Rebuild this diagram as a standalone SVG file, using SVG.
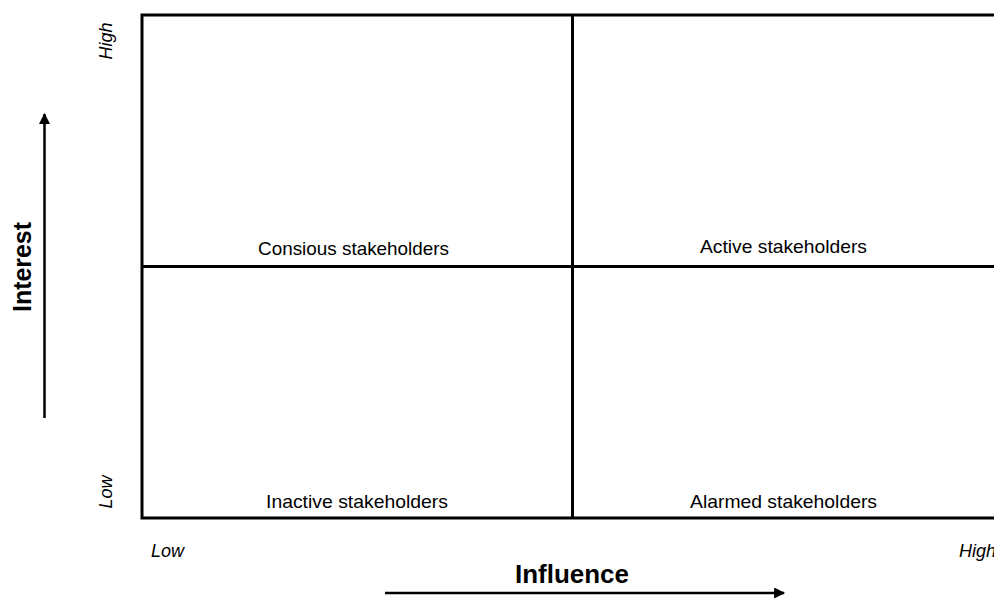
<svg xmlns="http://www.w3.org/2000/svg" width="994" height="599" viewBox="0 0 994 599">
  <style>
    .grid { stroke: #000; stroke-width: 3; fill: none; }
    .quad { font-family: "Liberation Sans", Arial, sans-serif; font-size: 19px; fill: #000; text-anchor: middle; }
    .axis-title { font-family: "Liberation Sans", Arial, sans-serif; font-size: 25px; font-weight: bold; fill: #000; text-anchor: middle; }
    .tick { font-family: "Liberation Sans", Arial, sans-serif; font-size: 18px; font-style: italic; fill: #000; }
    .axis-line { stroke: #000; stroke-width: 2.5; fill: none; }
  </style>
  <defs>
    <marker id="arrow" viewBox="0 0 10 10" refX="9" refY="5" markerWidth="4.8" markerHeight="4.4" markerUnits="strokeWidth" orient="auto">
      <path d="M0,0 L10,5 L0,10 Z" fill="#000"/>
    </marker>
  </defs>

  <!-- 2x2 matrix frame -->
  <g id="matrix" class="grid">
    <rect x="142" y="15" width="870" height="503"/>
    <line x1="572.5" y1="15" x2="572.5" y2="518"/>
    <line x1="142" y1="266.5" x2="1012" y2="266.5"/>
  </g>

  <!-- quadrant labels -->
  <g id="q-conscious"><text class="quad" x="353.5" y="255" textLength="191" lengthAdjust="spacingAndGlyphs">Consious stakeholders</text></g>
  <g id="q-active"><text class="quad" x="783.5" y="253" textLength="167" lengthAdjust="spacingAndGlyphs">Active stakeholders</text></g>
  <g id="q-inactive"><text class="quad" x="357" y="508" textLength="182" lengthAdjust="spacingAndGlyphs">Inactive stakeholders</text></g>
  <g id="q-alarmed"><text class="quad" x="783.5" y="508" textLength="187" lengthAdjust="spacingAndGlyphs">Alarmed stakeholders</text></g>

  <!-- axis tick labels -->
  <g id="tick-y-high"><text class="tick" transform="translate(112,41) rotate(-90)" text-anchor="middle">High</text></g>
  <g id="tick-y-low"><text class="tick" transform="translate(112,492) rotate(-90)" text-anchor="middle">Low</text></g>
  <g id="tick-x-low"><text class="tick" x="151" y="557">Low</text></g>
  <g id="tick-x-high"><text class="tick" x="959" y="557">High</text></g>

  <!-- axis titles -->
  <g id="axis-interest"><text class="axis-title" transform="translate(31,267) rotate(-90)" textLength="90" lengthAdjust="spacingAndGlyphs">Interest</text></g>
  <g id="axis-influence"><text class="axis-title" x="572" y="583" textLength="114" lengthAdjust="spacingAndGlyphs">Influence</text></g>

  <!-- axis arrows -->
  <g id="connectors">
    <line class="axis-line" x1="44.5" y1="418" x2="44.5" y2="114" marker-end="url(#arrow)"/>
    <line class="axis-line" x1="385" y1="593" x2="784" y2="593" marker-end="url(#arrow)"/>
  </g>
</svg>
